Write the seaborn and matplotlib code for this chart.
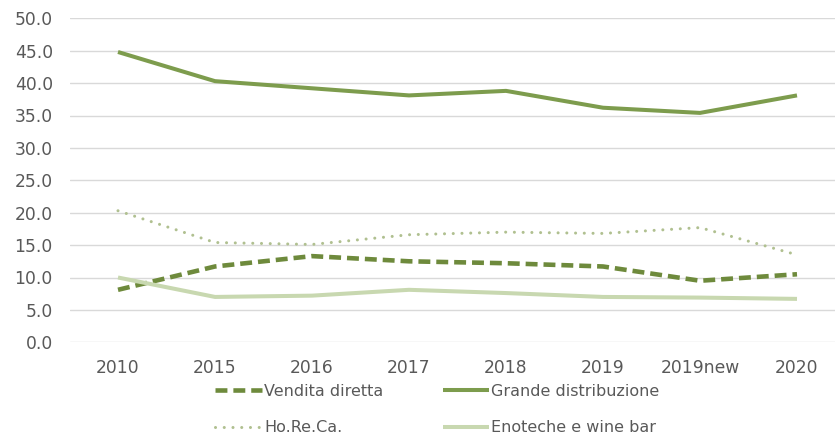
import matplotlib
matplotlib.use("Agg")
import matplotlib.pyplot as plt
import seaborn as sns
import pandas as pd

years = ["2010", "2015", "2016", "2017", "2018", "2019", "2019new", "2020"]
vendita_diretta = [8.1, 11.7, 13.3, 12.5, 12.2, 11.7, 9.5, 10.5]
grande_distribuzione = [44.8, 40.3, 39.2, 38.1, 38.8, 36.2, 35.4, 38.1]
horeca = [20.3, 15.4, 15.1, 16.6, 17.0, 16.8, 17.7, 13.5]
enoteche = [10.0, 7.0, 7.2, 8.1, 7.6, 7.0, 6.9, 6.7]
yticks = [0, 5, 10, 15, 20, 25, 30, 35, 40, 45, 50]

series = {
    "Vendita diretta": vendita_diretta,
    "Grande distribuzione": grande_distribuzione,
    "Ho.Re.Ca.": horeca,
    "Enoteche e wine bar": enoteche,
}
styles = {
    "Vendita diretta": dict(color="#6e8a3c", lw=3.3, dashes=(2.6, 1.3)),
    "Grande distribuzione": dict(color="#7d9c4d", lw=2.9, dashes=None),
    "Ho.Re.Ca.": dict(color="#b0c090", lw=2.2, dashes=(0.01, 2.85)),
    "Enoteche e wine bar": dict(color="#c8d8b0", lw=2.9, dashes=None),
}

sns.set_style("white")
plt.rcParams["font.family"] = ["DejaVu Sans"]

fig = plt.figure(figsize=(8.35, 4.34), dpi=100)
ax = fig.add_axes([69.5 / 835, 1 - 342.3 / 434, 1 - 69.5 / 835, (342.3 - 18.3) / 434])

handles = {}
for name, vals in series.items():
    df = pd.DataFrame({"year": years, "value": vals})
    st = styles[name]
    sns.lineplot(data=df, x="year", y="value", ax=ax, color=st["color"],
                 linewidth=st["lw"], sort=False, legend=False)
    line = ax.lines[-1]
    if st["dashes"] is not None:
        line.set_dashes(st["dashes"])
        if name == "Ho.Re.Ca.":
            line.set_dash_capstyle("round")
    else:
        line.set_solid_capstyle("butt")
    handles[name] = line

ax.set_ylim(0, 50)
ax.set_xlim(-0.5, -0.5 + (835 - 69.5) / 97.0)
ax.set_yticks(yticks)
ax.set_yticklabels([f"{v:.1f}" for v in yticks])
ax.set_xlabel("")
ax.set_ylabel("")
ax.grid(axis="y", color="#d9d9d9", linewidth=1.0)
ax.grid(axis="x", visible=False)
ax.set_axisbelow(True)
for s in ax.spines.values():
    s.set_visible(False)
ax.tick_params(axis="both", length=0, labelsize=12.3, colors="#595959")
ax.tick_params(axis="y", pad=12)
ax.tick_params(axis="x", pad=12)

order = ["Vendita diretta", "Ho.Re.Ca.", "Grande distribuzione", "Enoteche e wine bar"]
leg = fig.legend([handles[k] for k in order], order, ncol=2, loc="center",
                 bbox_to_anchor=(437.5 / 835, 1 - 409.5 / 434), frameon=False,
                 fontsize=11.5, handlelength=2.9, handletextpad=0.15,
                 columnspacing=3.7, labelspacing=1.35, borderpad=0)
for t in leg.get_texts():
    t.set_color("#595959")

fig.savefig("out.png", dpi=100)
